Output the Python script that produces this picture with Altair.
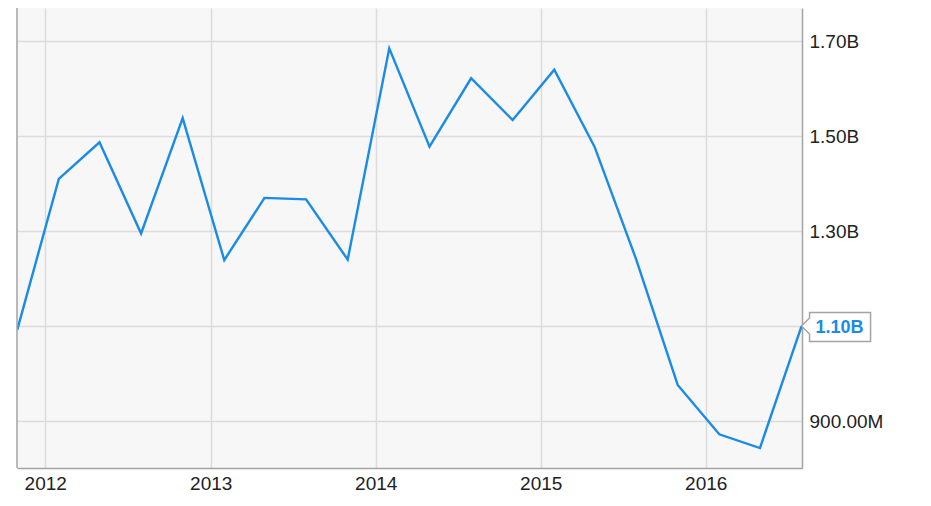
import altair as alt
import pandas as pd

# ---- data ----
dates = ["2011-10-31", "2012-01-31", "2012-04-30", "2012-07-31", "2012-10-31",
         "2013-01-31", "2013-04-30", "2013-07-31", "2013-10-31", "2014-01-31",
         "2014-04-30", "2014-07-31", "2014-10-31", "2015-01-31", "2015-04-30",
         "2015-07-31", "2015-10-31", "2016-01-31", "2016-04-30", "2016-07-31"]
values_b = [1.092, 1.410, 1.487, 1.295, 1.538,
            1.239, 1.370, 1.367, 1.240, 1.685,
            1.478, 1.622, 1.534, 1.640, 1.478,
            1.241, 0.976, 0.872, 0.843, 1.100]
year_ticks = [2012, 2013, 2014, 2015, 2016]
y_tick_values = [0.9e9, 1.1e9, 1.3e9, 1.5e9, 1.7e9]
y_tick_labels = ["900.00M", "1.10B", "1.30B", "1.50B", "1.70B"]
last_label = "1.10B"

BLUE = "#1a8be6"
GRID = "#dcdcdc"
BORDER = "#a3a3a3"
TEXT = "#222222"
FONT = "Liberation Sans"
W, H = 785, 460

df = pd.DataFrame({"date": dates, "value": [v * 1e9 for v in values_b]})
last = df.iloc[[-1]].copy()
last["label"] = last_label

# label map (1.10B hidden on the axis: it is shown by the callout)
pairs = ", ".join(
    "'%d': '%s'" % (int(round(v)), ("" if l == last_label else l))
    for v, l in zip(y_tick_values, y_tick_labels)
)
label_expr = "{%s}[format(datum.value, 'd')]" % pairs

x_scale = alt.Scale(domain=[alt.DateTime(year=2011, month=10, date=30, hours=12),
                            alt.DateTime(year=2016, month=8, date=1)])
y_scale = alt.Scale(domain=[0.801e9, 1.770e9], nice=False, zero=False)

x_enc = alt.X("date:T", scale=x_scale,
              axis=alt.Axis(values=[alt.DateTime(year=y, month=1, date=1) for y in year_ticks],
                            format="%Y", title=None, grid=True, ticks=False,
                            labelPadding=6, domainColor=BORDER, domainWidth=1.5,
                            gridColor=GRID, gridWidth=1.5, labelFont=FONT,
                            labelFontSize=19, labelColor=TEXT))
y_enc = alt.Y("value:Q", scale=y_scale,
              axis=alt.Axis(values=y_tick_values, orient="right", title=None, grid=True,
                            ticks=False, labelPadding=7, labelExpr=label_expr,
                            labelAlign="left", labelBaseline="middle",
                            domainColor=BORDER, domainWidth=1.5,
                            gridColor=GRID, gridWidth=1.5, labelFont=FONT,
                            labelFontSize=19, labelColor=TEXT))

line = alt.Chart(df).mark_line(color=BLUE, strokeWidth=2.4, clip=True).encode(x=x_enc, y=y_enc)

left_border = alt.Chart(last).mark_rule(color=BORDER, strokeWidth=1.5).encode(
    x=alt.value(0), y=alt.value(0), y2=alt.value(H))

CALLOUT = "M0,0 L0.8,-0.8 L0.8,-1.35 L6.9,-1.35 L6.9,1.55 L0.8,1.55 L0.8,0.8 Z"
callout = alt.Chart(last).mark_point(shape=CALLOUT, size=400, filled=True, fill="white",
                                     stroke=BORDER, strokeWidth=1.5, opacity=1).encode(
    x=x_enc, y=y_enc)

callout_text = alt.Chart(last).mark_text(dx=38, dy=1.5, align="center", baseline="middle",
                                         fontSize=18, fontWeight="bold", color=BLUE,
                                         font=FONT).encode(x=x_enc, y=y_enc, text="label:N")

chart = alt.layer(line, left_border, callout, callout_text).properties(
    width=W, height=H,
    background="white",
    autosize=alt.AutoSizeParams(type="none"),
    padding={"left": 9, "top": 0, "right": 121, "bottom": 36},
).configure_view(
    fill="#f7f7f7", strokeWidth=0, stroke="transparent"
)

chart.save("out.html", embed_options={"renderer": "svg", "actions": False})
